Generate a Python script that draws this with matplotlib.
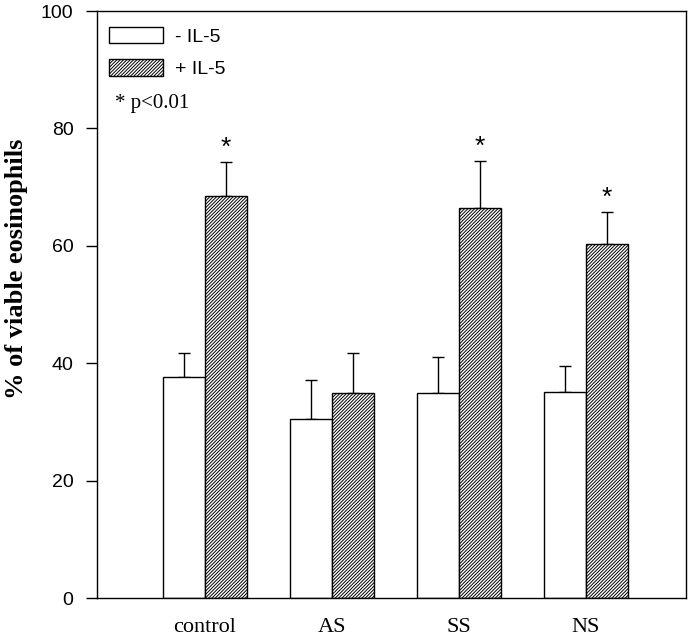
"""
plot.py - eosinophil viability with / without IL-5 (bar chart, upper SE bars)
"""
import numpy as np
import matplotlib
matplotlib.use("Agg")
import matplotlib.pyplot as plt
from matplotlib.patches import Patch

# data
categories = ["control", "AS", "SS", "NS"]
minus_il5 = [37.7, 30.5, 34.9, 35.1]
minus_err = [4.1, 6.7, 6.2, 4.5]
plus_il5 = [68.5, 34.9, 66.4, 60.3]
plus_err = [5.8, 6.9, 8.1, 5.5]
significant = [True, False, True, True]

HATCH = "//////////"
plt.rcParams["hatch.linewidth"] = 0.7
SERIF = ["Liberation Serif", "DejaVu Serif"]
SANS = ["Liberation Sans", "DejaVu Sans"]


def main():
    fig = plt.figure(figsize=(6.93, 6.36), dpi=100)
    ax = fig.add_axes([0.140, 0.0597, 0.850, 0.923])

    x = np.arange(len(categories))
    w = 0.33

    # white bars (- IL-5) sit left of the group centre, hatched ones right of it
    ax.bar(x - w, minus_il5, width=w, align="edge", color="white",
           edgecolor="black", linewidth=1.0, zorder=2)
    ax.bar(x, plus_il5, width=w, align="edge", color="white",
           edgecolor="black", linewidth=1.0, hatch=HATCH, zorder=2)

    # only the upper half of the error bars is drawn
    zeros = np.zeros(len(categories))
    ax.errorbar(x - w / 2, minus_il5, yerr=[zeros, minus_err], fmt="none",
                ecolor="black", elinewidth=1.0, capsize=4.3, capthick=1.0, zorder=1)
    ax.errorbar(x + w / 2, plus_il5, yerr=[zeros, plus_err], fmt="none",
                ecolor="black", elinewidth=1.0, capsize=4.3, capthick=1.0, zorder=1)

    # significance stars
    for xi, m, e, sig in zip(x, plus_il5, plus_err, significant):
        if sig:
            ax.text(xi + w / 2, m + e + 2.4, "*", ha="center", va="center",
                    fontsize=19, family=SANS)

    ax.set_xlim(-0.85, 3.79)
    ax.set_ylim(0, 100)
    ax.set_yticks([0, 20, 40, 60, 80, 100])
    ax.set_xticks(x)
    ax.set_xticklabels(categories, family=SERIF, fontsize=16)
    for lab in ax.get_yticklabels():
        lab.set_family(SANS)
        lab.set_fontsize(14)
    ax.tick_params(axis="x", length=0, pad=14.5)
    ax.tick_params(axis="y", direction="out", length=8, width=1, pad=9)

    for s in ax.spines.values():
        s.set_linewidth(1.0)

    ax.set_ylabel("% of viable eosinophils", family=SERIF, fontsize=19,
                  fontweight="bold")
    ax.yaxis.set_label_coords(-0.117, 0.56)

    handles = [
        Patch(facecolor="white", edgecolor="black", linewidth=1.0),
        Patch(facecolor="white", edgecolor="black", linewidth=1.0, hatch=HATCH),
    ]
    ax.legend(handles, ["- IL-5", "+ IL-5"], loc="upper left",
              bbox_to_anchor=(0.0204, 0.9727), frameon=False,
              prop={"family": SANS, "size": 14}, handlelength=2.8,
              handleheight=0.9, handletextpad=0.6, labelspacing=0.7,
              borderpad=0, borderaxespad=0)
    ax.text(0.03, 0.843, "* p<0.01", transform=ax.transAxes, ha="left",
            va="center", family=SERIF, fontsize=15)

    fig.savefig("out.png", dpi=100)
    plt.close(fig)


if __name__ == "__main__":
    main()
